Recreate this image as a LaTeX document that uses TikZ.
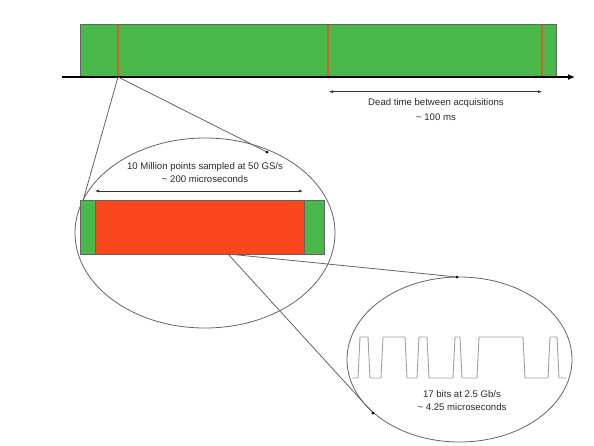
\documentclass[tikz,border=0pt]{standalone}
\usepackage{fontspec}
\setmainfont{Liberation Sans}
\usetikzlibrary{arrows.meta}
\definecolor{acqgreen}{RGB}{72,184,74}
\definecolor{acqred}{RGB}{250,70,28}
\definecolor{trigline}{RGB}{210,95,35}
\definecolor{zoomgray}{RGB}{100,100,100}
\definecolor{wavegray}{RGB}{160,160,160}
\definecolor{labelink}{RGB}{40,40,55}
\tikzset{
  lbl/.style={font=\fontsize{9.6}{11}\selectfont,text=labelink,inner sep=0pt},
  zoomline/.style={draw=zoomgray,line width=0.8pt},
  span/.style={draw=black!80,line width=0.6pt,{Latex[length=4pt,width=3pt]}-{Latex[length=4pt,width=3pt]}},
}
\begin{document}
\begin{tikzpicture}[x=1pt,y=-1pt]
\useasboundingbox (0,0) rectangle (594,445);
\coordinate[] (A) at (80.7,24.3);
\coordinate[] (B) at (556,77);
\coordinate[] (T1) at (118,77);
\coordinate[] (Ax0) at (61.7,77);
\coordinate[] (Ax1) at (575,77);
\coordinate[] (D0) at (329,91.7);
\coordinate[] (D1) at (542,91.7);
\coordinate[] (C) at (80.7,200.7);
\coordinate[] (E) at (324,254);
\coordinate[] (F) at (228,254);
\coordinate[] (G) at (83,200.7);
\coordinate[] (H) at (267,152);
\coordinate[] (I) at (457,277);
\coordinate[] (J) at (373,413);
\coordinate[] (S0) at (95,191);
\coordinate[] (S1) at (303,191);
% top acquisition bar
\fill[acqgreen] (A) rectangle (B);
\draw[zoomgray,line width=0.8pt] (A) rectangle (B);
\foreach \x in {118,328,542}
	\draw[trigline,line width=2pt] (\x,24.8) -- (\x,76.5);
\draw[black,line width=1.3pt,-{Latex[length=7pt,width=6pt]}] (Ax0) -- (A|-Ax0) (B) -- (Ax1);
\draw[black,line width=1.3pt] (A|-Ax0) -- (B);
\draw[span] (D0) -- (D1);
\node[lbl] (dead1) at (436,103) {Dead time between acquisitions};
\node[lbl] (dead2) at (436,117) {\textasciitilde\ 100 ms};
% first zoom
\draw[zoomline] (205,233) ellipse [x radius=130,y radius=95];
\draw[zoomline] (T1) -- (G);
\draw[zoomline] (T1) -- (H);
\fill[acqgreen] (C) rectangle (E);
\fill[acqred] (95,200.7) rectangle (304.5,254);
\draw[zoomgray,line width=0.8pt] (C) rectangle (E);
\draw[zoomgray,line width=0.8pt] (95,200.7) -- (95,254) (304.5,200.7) -- (304.5,254);
\draw[span] (S0) -- (S1);
\node[lbl] (pts1) at (205,167) {10 Million points sampled at 50 GS/s};
\node[lbl] (pts2) at (205,179.5) {\textasciitilde\ 200 microseconds};
% second zoom
\draw[zoomline] (F) -- (I);
\draw[zoomline] (F) -- (J);
\draw[zoomline] (459.5,359.5) ellipse [x radius=112.5,y radius=82.5];
\draw[wavegray,line width=0.9pt,line join=round]
  (352,378) -- (358,378) -- (360,337) -- (368,337) -- (370,378) -- (381,378)
  -- (383,337) -- (405,337) -- (407,378) -- (417,378) -- (419,337) -- (427,337)
  -- (429,378) -- (453,378) -- (455,337) -- (460,337) -- (462,378) -- (477,378)
  -- (479,337) -- (523,337) -- (525,378) -- (548,378) -- (550,337) -- (557,337)
  -- (559,378) -- (566,378);
\node[lbl] (bits1) at (462,394) {17 bits at 2.5 Gb/s};
\node[lbl] (bits2) at (462,407) {\textasciitilde\ 4.25 microseconds};
\foreach \p in {H,I,J}
	\fill[black] (\p) circle (1.5pt);
\end{tikzpicture}
\end{document}
